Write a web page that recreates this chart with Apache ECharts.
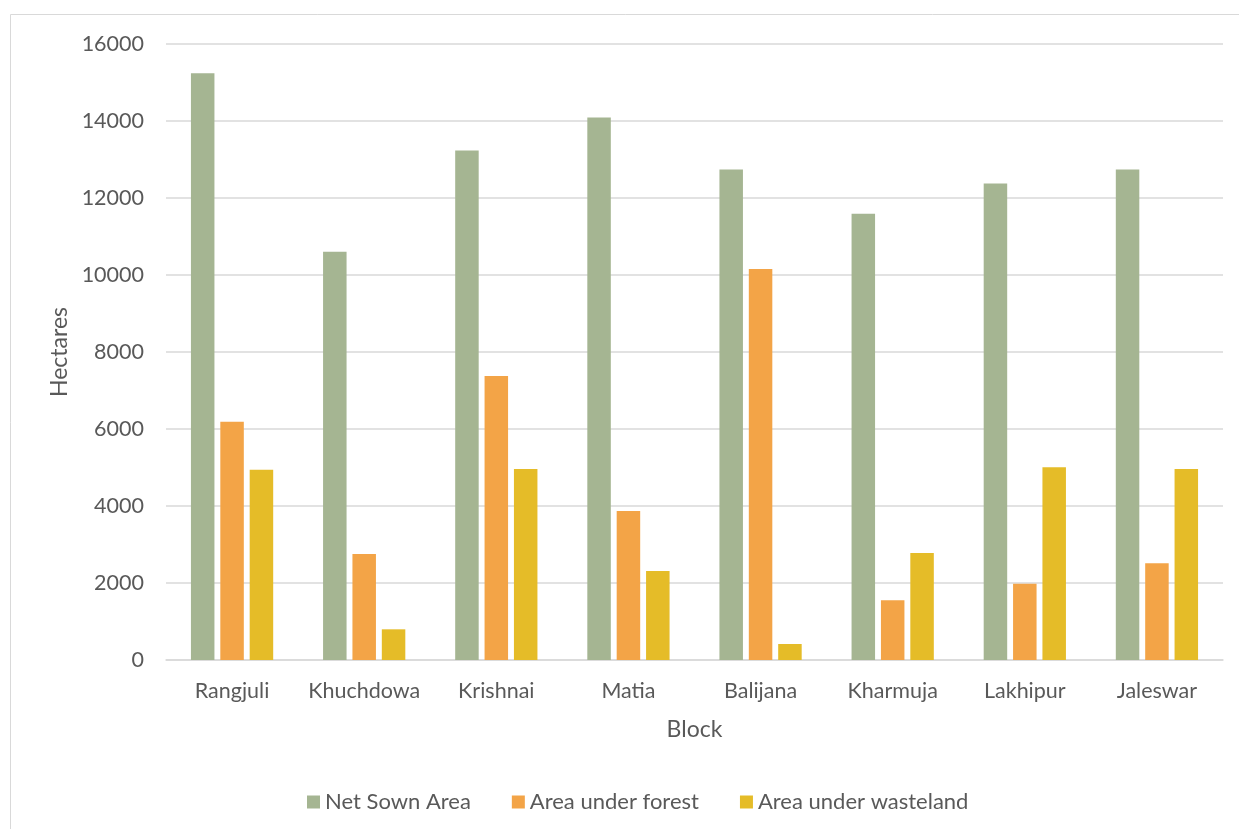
<!DOCTYPE html>
<html>
<head>
<meta charset="utf-8">
<script src="https://cdn.jsdelivr.net/npm/echarts@6/dist/echarts.min.js"></script>
<style>
html,body{margin:0;padding:0;background:#fff;}
#c{width:1239px;height:829px;}
</style>
</head>
<body>
<div id="c"></div>
<script>
const categories = ['Rangjuli','Khuchdowa','Krishnai','Matia','Balijana','Kharmuja','Lakhipur','Jaleswar'];
const seriesNames = ['Net Sown Area','Area under forest','Area under wasteland'];
const netSown = [15238, 10604, 13233, 14089, 12740, 11590, 12377, 12740];
const forest = [6190, 2753, 7377, 3870, 10153, 1550, 1983, 2511];
const wasteland = [4943, 797, 4961, 2312, 416, 2779, 5004, 4961];
const colors = ['#A5B592','#F3A447','#E5BC28'];

const FONT = 'Lato';
const TXT = '#595959';
const chart = echarts.init(document.getElementById('c'));
const mk = (name, data, color) => ({
  name, type:'bar', data,
  barWidth: 23.5, barGap: '25%',
  itemStyle:{color},
  emphasis:{disabled:true}
});
chart.setOption({
  animation:false,
  textStyle:{fontFamily:FONT},
  graphic:[{type:'rect', shape:{x:10.5,y:14.5,width:1400,height:1000}, style:{fill:'none',stroke:'#d9d9d9',lineWidth:1}, silent:true}],
  grid:{left:166,right:16,top:44,bottom:169,containLabel:false},
  legend:{
    data:seriesNames, bottom:11, left:302,
    itemWidth:13,itemHeight:13,itemGap:41,
    icon:'rect',
    textStyle:{color:TXT,fontSize:22,fontFamily:FONT}
  },
  xAxis:{
    type:'category', data:categories,
    name:'Block', nameLocation:'middle', nameGap:58,
    nameTextStyle:{color:TXT,fontSize:23,fontFamily:FONT},
    axisLine:{lineStyle:{color:'#d9d9d9',width:1.5}},
    axisTick:{show:false},
    axisLabel:{color:TXT,fontSize:21.5,margin:20,interval:0,fontFamily:FONT}
  },
  yAxis:{
    type:'value', min:0, max:16000, interval:2000,
    name:'Hectares', nameLocation:'middle', nameGap:92, nameRotate:90,
    nameTextStyle:{color:TXT,fontSize:23,fontFamily:FONT},
    axisLine:{show:false}, axisTick:{show:false},
    axisLabel:{color:TXT,fontSize:21.5,margin:22,fontFamily:FONT,formatter:v=>String(v)},
    splitLine:{lineStyle:{color:'#d9d9d9',width:1.5}}
  },
  series:[mk(seriesNames[0],netSown,colors[0]),mk(seriesNames[1],forest,colors[1]),mk(seriesNames[2],wasteland,colors[2])]
});
</script>
</body>
</html>
